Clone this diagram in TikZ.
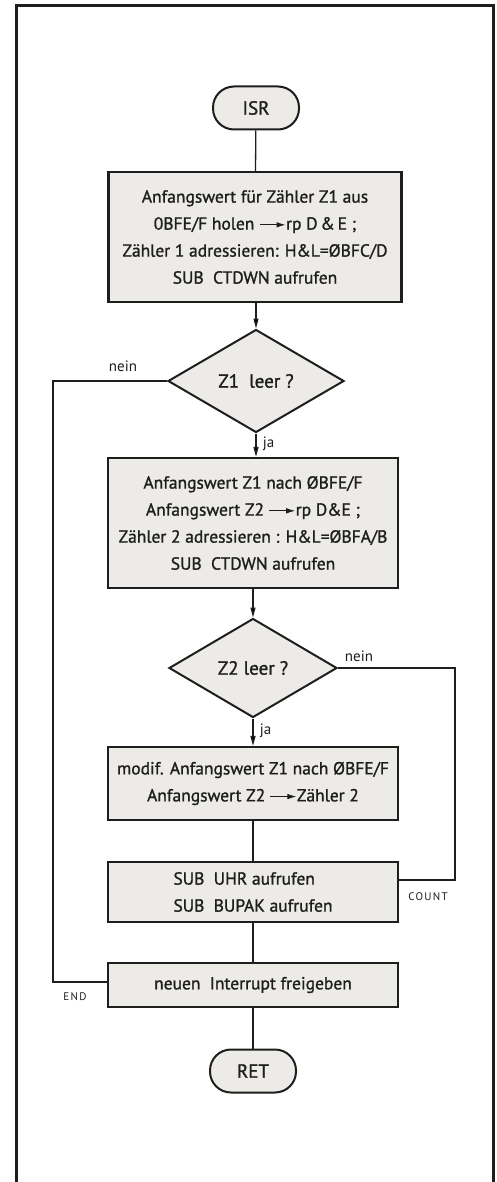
\documentclass[tikz,border=0pt]{standalone}
\usepackage{fontspec}
\setmainfont[FakeBold=1.2]{PT Sans}
\newfontfamily\lblfont{PT Sans}
\usetikzlibrary{arrows.meta,shapes.geometric}
\definecolor{boxgray}{HTML}{ECEBE7}
\definecolor{ink}{HTML}{1E1E1E}
\newcommand{\rarr}{\tikz[baseline=-0.55ex]\draw[line width=1pt,-{Latex[length=9pt,width=5.5pt]}] (0,0)--(26pt,0);}
\begin{document}
\begin{tikzpicture}[x=1pt,y=-1pt,
  every node/.style={text=ink},
  box/.style={draw=ink,line width=2.2pt,fill=boxgray,rectangle,inner sep=0pt,align=center,
    font=\fontsize{17.5}{27}\selectfont},
  term/.style={draw=ink,line width=2pt,fill=boxgray,rectangle,rounded corners=21pt,inner sep=0pt,
    minimum width=86pt,minimum height=43pt,font=\fontsize{19}{20}\selectfont},
  dia/.style={draw=ink,line width=2pt,fill=boxgray,diamond,inner sep=0pt,font=\fontsize{19}{20}\selectfont},
  conn/.style={draw=ink,line width=1.3pt},
  arr/.style={conn,-{Triangle[length=10pt,width=5pt]}},
  lbl/.style={font=\lblfont\fontsize{15}{16}\selectfont},
  sml/.style={font=\lblfont\fontsize{11}{13}\selectfont\addfontfeatures{LetterSpace=12}}
]
\useasboundingbox (0,0) rectangle (497,1182);
\fill[white] (0,0) rectangle (497,1182);
% frame
\draw[ink,line width=3pt] (16,1182) -- (16,6) -- (493,6) -- (493,1182);

\node[term] (isr) at (256,108) {ISR};
\node[box,minimum width=293pt,minimum height=130pt] (b1) at (255,237)
 {Anfangswert für Zähler Z1 aus\\0BFE/F holen \rarr rp D\,\&\,E ;\\Zähler 1 adressieren: H\&L=ØBFC/D\\SUB\ \ CTDWN aufrufen};
\node[dia,minimum width=176pt,minimum height=103pt] (z1) at (256,381) {Z1\ \ leer ?};
\node[box,minimum width=290pt,minimum height=130pt] (b2) at (253,523)
 {Anfangswert Z1 nach ØBFE/F\\Anfangswert Z2 \rarr rp D\&E ;\\Zähler 2 adressieren : H\&L=ØBFA/B\\SUB\ \ CTDWN aufrufen};
\node[dia,minimum width=168pt,minimum height=99pt] (z2) at (253,668) {Z2 leer ?};
\node[box,minimum width=290pt,minimum height=73pt] (b3) at (253,783.5)
 {modif. Anfangswert Z1 nach ØBFE/F\\Anfangswert Z2 \rarr Zähler 2};
\node[box,minimum width=290pt,minimum height=60pt,align=left] (b4) at (253,892)
 {SUB\ \ UHR aufrufen\\SUB\ \ BUPAK aufrufen};
\node[box,minimum width=290pt,minimum height=44pt] (b5) at (253,985)
 {neuen\ \ Interrupt freigeben};
\node[term] (ret) at (253,1071) {RET};

% main flow
\draw[conn] (isr) -- (b1);
\draw[arr] (b1.south -| z1) -- (z1.north);
\draw[arr] (z1.south) -- (b2.north -| z1.south) node[lbl,pos=0.45,right=3pt] (ja1) {ja};
\draw[arr] (b2) -- (z2);
\draw[arr] (z2.south) -- (b3.north) node[lbl,pos=0.45,right=3pt] (ja2) {ja};
\draw[conn] (b3) -- (b4);
\draw[conn] (b4) -- (b5);
\draw[conn] (b5) -- (ret);

% nein branches
\coordinate (nl) at (53,982);
\draw[conn] (z1.west) -| (nl) -- (b5.west |- nl);
\node[lbl] (nein1) at (123,366) {nein};
\node[sml] (endl) at (75,997) {END};

\coordinate (nr) at (455,880);
\draw[conn] (z2.east) -| (nr) -- (b4.east |- nr);
\node[lbl] (nein2) at (359,656) {nein};
\node[sml] (count) at (428,897) {COUNT};
\end{tikzpicture}
\end{document}
